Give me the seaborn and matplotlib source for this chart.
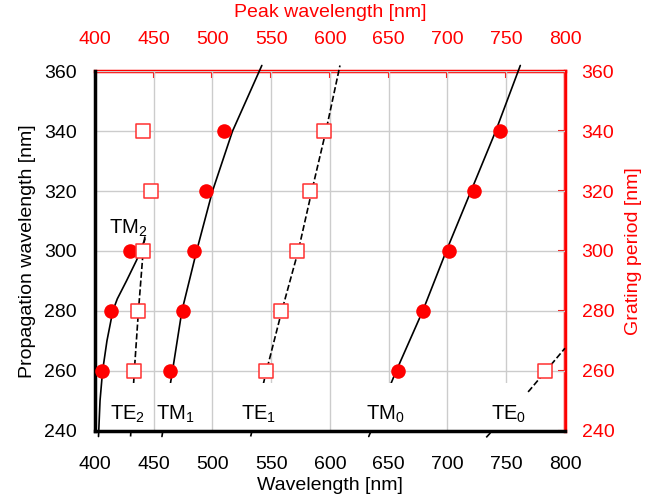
import matplotlib
matplotlib.use("Agg")
import matplotlib.pyplot as plt
from matplotlib.patches import Rectangle
import seaborn as sns
import pandas as pd

# dispersion curves: propagation wavelength (y) vs wavelength (x)
tm2_y = [238, 250, 260, 270, 280, 284, 290, 297, 304]
tm2_x = [403.0, 404.3, 406.5, 410.2, 415.2, 419.0, 426.8, 435.5, 442.5]
te2_y = [238, 260, 280, 300, 305]
te2_x = [430.3, 433.5, 437.0, 441.0, 442.5]
tm1_y = [238, 254, 260, 280, 300, 320, 340, 362]
tm1_x = [457.0, 463.5, 466.0, 474.0, 486.5, 500.0, 517.0, 542.0]
te1_y = [238, 260, 280, 300, 320, 340, 362]
te1_x = [532.5, 546.0, 559.0, 573.0, 584.5, 596.5, 608.5]
tm0_y = [238, 260, 280, 300, 320, 340, 362]
tm0_x = [633.0, 656.5, 679.0, 699.0, 720.0, 741.0, 762.0]
te0_y = [237.7, 253.5, 267.5]
te0_x = [733.0, 770.0, 800.0]

# measured peaks: grating period vs peak wavelength
tm_period = [260, 280, 300, 260, 280, 300, 320, 340, 260, 280, 300, 320, 340]
tm_peak = [406.2, 413.8, 430.2, 464.2, 474.6, 484.5, 494.7, 510.0,
           657.8, 679.6, 701.2, 722.2, 745.0]
te_period = [260, 280, 300, 320, 340, 260, 280, 300, 320, 340, 260]
te_peak = [433.0, 436.7, 440.7, 447.7, 440.7, 545.4, 558.5, 571.7,
           583.1, 595.2, 783.1]

mode_labels = ["TE$_{\\mathregular{2}}$", "TM$_{\\mathregular{1}}$", "TE$_{\\mathregular{1}}$",
               "TM$_{\\mathregular{0}}$", "TE$_{\\mathregular{0}}$"]
label_x = [427.8, 468.4, 539.0, 647.3, 752.0]
box_x = [(413, 443), (452, 485), (524, 555), (630, 665), (736, 768)]

sns.set_style("white")
plt.rcParams['font.family'] = ['Liberation Sans', 'DejaVu Sans']
plt.rcParams['mathtext.fontset'] = 'custom'
plt.rcParams['mathtext.rm'] = 'Liberation Sans'
for k in ['text.color', 'axes.labelcolor', 'xtick.color', 'ytick.color']:
    plt.rcParams[k] = 'black'

fig = plt.figure(figsize=(6.67, 5.04), dpi=100)
ax = fig.add_axes([0.1424, 0.1458, 0.7046, 0.7124])

curves = [(tm2_x, tm2_y, '-'), (te2_x, te2_y, '--'), (tm1_x, tm1_y, '-'),
          (te1_x, te1_y, '--'), (tm0_x, tm0_y, '-'), (te0_x, te0_y, '--')]
for cx, cy, ls in curves:
    d = pd.DataFrame({'x': cx, 'y': cy})
    sns.lineplot(data=d, x='x', y='y', sort=False, estimator=None, ax=ax,
                 color='black', lw=1.2, linestyle=ls, clip_on=False, zorder=2,
                 dashes=(5.5, 3.5) if ls == '--' else '')

# white boxes behind the mode labels
for (x0, x1) in box_x:
    ax.add_patch(Rectangle((x0, 240), x1 - x0, 16, facecolor='white',
                           edgecolor='none', zorder=2.2))
for lab, lx in zip(mode_labels, label_x):
    ax.text(lx, 243.5, lab, ha='center', va='baseline', fontsize=14.5, zorder=3)
ax.text(428.6, 305.7, "TM$_{\\mathregular{2}}$", ha='center', va='baseline', fontsize=14.5, zorder=3)

sns.scatterplot(x=tm_peak, y=tm_period, ax=ax, marker='o', s=110, color='red',
                edgecolor='red', linewidth=0, zorder=4, clip_on=False)
sns.scatterplot(x=te_peak, y=te_period, ax=ax, marker='s', s=95, facecolor='white',
                edgecolor='#ff3030', linewidth=1.1, zorder=4, clip_on=False)

ax.set_xlim(400, 800)
ax.set_ylim(240, 360)
ax.set_xticks(range(400, 801, 50))
ax.set_yticks(range(240, 361, 20))
ax.grid(True, color='#cccccc', lw=1)
ax.set_axisbelow(True)
ax.set_xlabel('Wavelength [nm]', fontsize=14, labelpad=3)
ax.set_ylabel('Propagation wavelength [nm]', fontsize=14, labelpad=6)
ax.tick_params(direction='in', length=5, width=1.5, labelsize=14, color='black', labelcolor='black')
ax.tick_params(axis='x', pad=18)
ax.tick_params(axis='y', pad=13)
for s in ['left', 'bottom']:
    ax.spines[s].set_linewidth(2.5)
    ax.spines[s].set_color('black')
for s in ['top', 'right']:
    ax.spines[s].set_visible(False)

secx = ax.secondary_xaxis('top')
secx.set_xticks(range(400, 801, 50))
secx.tick_params(direction='in', length=5, width=1.5, labelsize=14, colors='red', pad=17)
secx.set_xlabel('Peak wavelength [nm]', fontsize=14, color='red', labelpad=10)
secx.spines['top'].set_color('red')
secx.spines['top'].set_linewidth(2.5)

secy = ax.secondary_yaxis('right')
secy.set_yticks(range(240, 361, 20))
secy.tick_params(direction='in', length=5, width=1.5, labelsize=14, colors='red', pad=12)
secy.set_ylabel('Grating period [nm]', fontsize=14, color='red', labelpad=8)
secy.spines['right'].set_color('red')
secy.spines['right'].set_linewidth(2.5)

fig.savefig('out.png', dpi=100)
